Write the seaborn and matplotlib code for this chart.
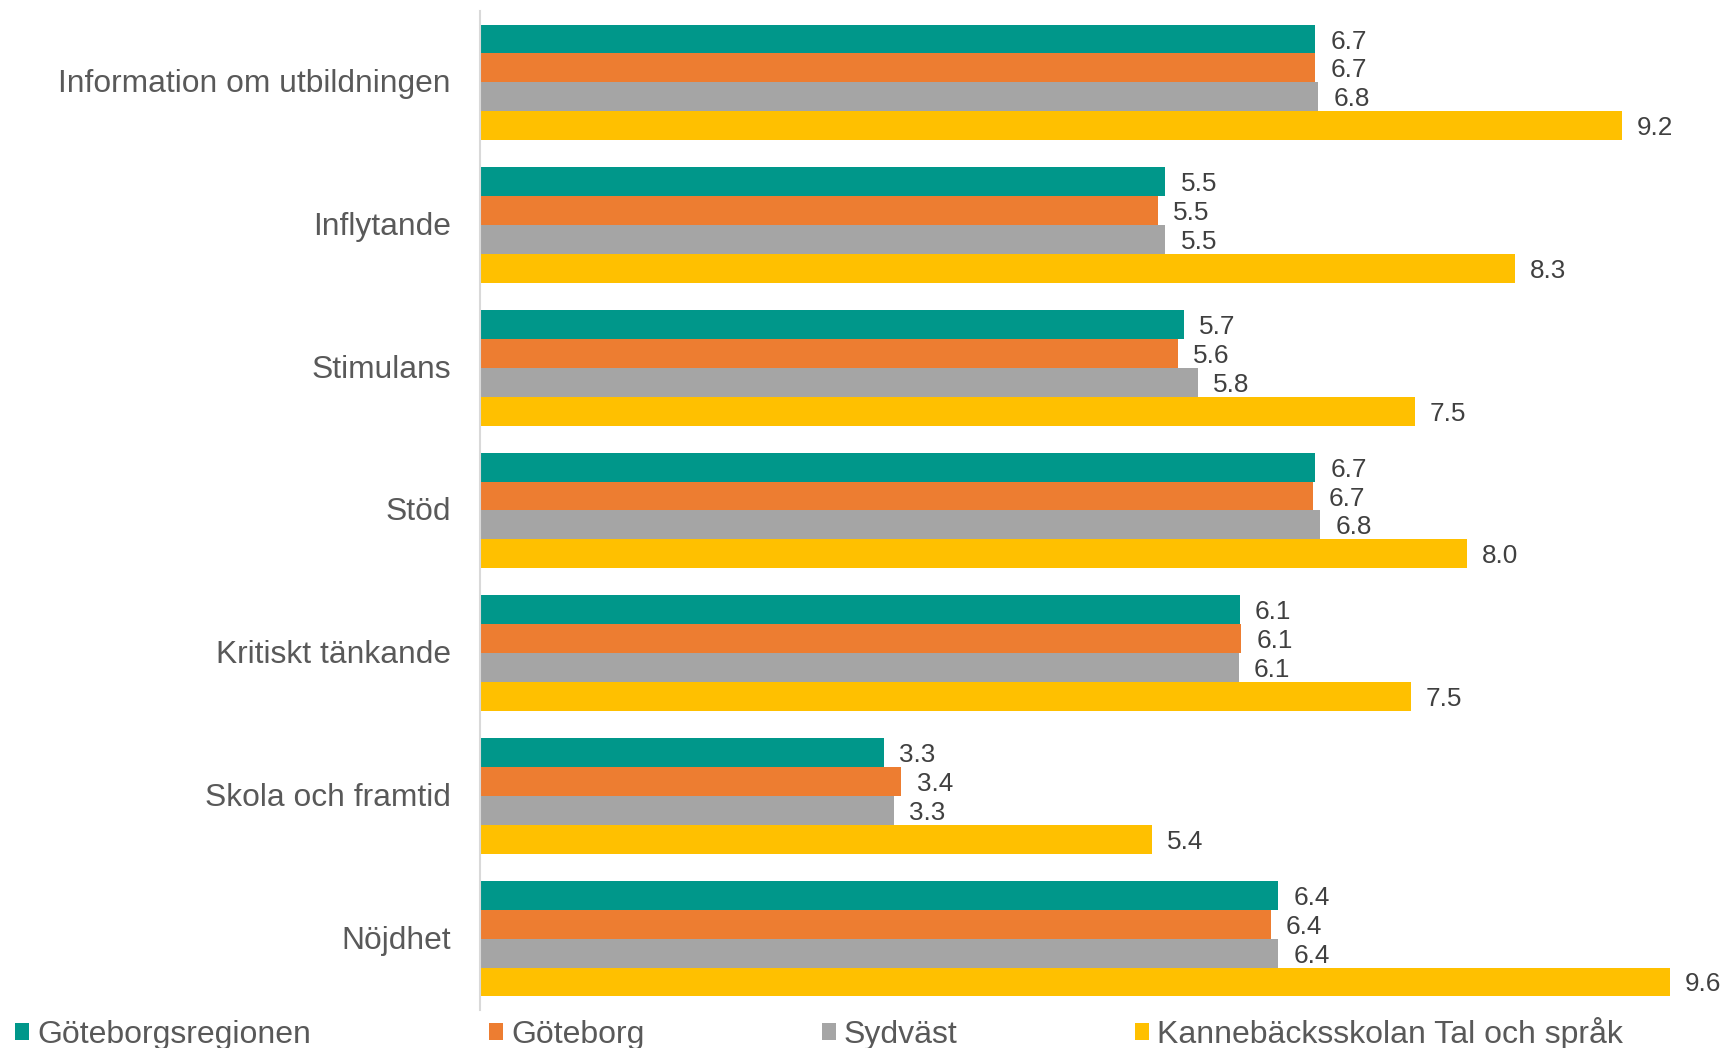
import matplotlib
matplotlib.use("Agg")
import matplotlib.pyplot as plt
import matplotlib.transforms as mtransforms
from matplotlib.patches import Patch
import pandas as pd
import seaborn as sns

# --- Data ---
kategorier = ["Information om utbildningen", "Inflytande", "Stimulans", "Stöd",
              "Kritiskt tänkande", "Skola och framtid", "Nöjdhet"]
grupper = ["Göteborgsregionen", "Göteborg", "Sydväst", "Kannebäcksskolan Tal och språk"]

goteborgsregionen = [6.74, 5.53, 5.68, 6.74, 6.13, 3.26, 6.44]
goteborg = [6.74, 5.47, 5.63, 6.72, 6.14, 3.40, 6.38]
sydvast = [6.76, 5.53, 5.79, 6.78, 6.12, 3.34, 6.44]
kannebacksskolan = [9.21, 8.35, 7.54, 7.96, 7.51, 5.42, 9.60]

farger = ["#00978A", "#ED7D31", "#A5A5A5", "#FFC000"]

rows = []
for grupp, vals in zip(grupper, [goteborgsregionen, goteborg, sydvast, kannebacksskolan]):
    for kat, v in zip(kategorier, vals):
        rows.append({"kategori": kat, "grupp": grupp, "varde": v})
df = pd.DataFrame(rows)

# --- Plot ---
sns.set_style("white")
plt.rcParams["font.family"] = ["Liberation Sans", "DejaVu Sans"]

fig = plt.figure(figsize=(17.26, 10.48), dpi=100)
ax = fig.add_axes([0.2781, 0.0363, 0.7181, 0.9532])

sns.barplot(data=df, y="kategori", x="varde", hue="grupp", hue_order=grupper,
            order=kategorier, palette=farger, saturation=1, width=0.81,
            orient="h", dodge=True, legend=False, ax=ax, linewidth=0)

# value labels, nudged a couple of pixels down like the original
for cont in ax.containers:
    for t in ax.bar_label(cont, fmt="%.1f", padding=11, fontsize=18.8, color="#404040"):
        x0, y0 = t.xyann
        t.xyann = (x0, y0 - 1.8)

ax.set_xlim(0, 10)
ax.set_xlabel("")
ax.set_ylabel("")
ax.set_xticks([])
ax.tick_params(axis="y", length=0, pad=21, labelsize=22.9, labelcolor="#595959")
for lbl in ax.get_yticklabels():
    lbl.set_transform(lbl.get_transform() + mtransforms.ScaledTranslation(0, 1.5 / 100, fig.dpi_scale_trans))
for side in ["top", "right", "bottom"]:
    ax.spines[side].set_visible(False)
ax.spines["left"].set_color("#D9D9D9")
ax.spines["left"].set_linewidth(1.5)

handles = [Patch(facecolor=c, edgecolor="none") for c in farger]
leg = fig.legend(handles, grupper, loc="center left", bbox_to_anchor=(0.0087, 0.014),
                 ncol=4, frameon=False, fontsize=23, handlelength=0.45, handleheight=0.45,
                 handletextpad=0.25, columnspacing=5.55, borderpad=0, borderaxespad=0)
for t in leg.get_texts():
    t.set_color("#595959")

fig.savefig("out.png", dpi=100)
